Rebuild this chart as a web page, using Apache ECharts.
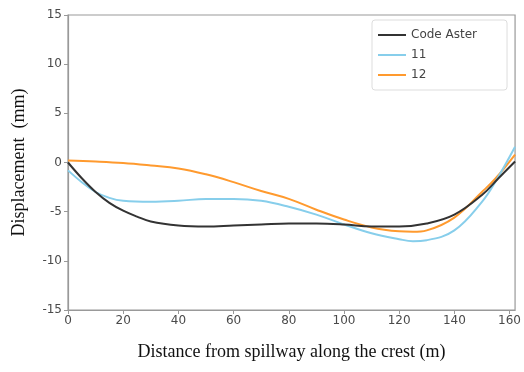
<!DOCTYPE html>
<html><head><meta charset="utf-8">
<script src="https://cdn.jsdelivr.net/npm/echarts@6/dist/echarts.min.js"></script>
<style>html,body{margin:0;padding:0;background:#fff}#c{width:524px;height:372px}</style>
</head><body><div id="c"></div>
<script>
const codeAsterX = [0, 5, 10, 15, 20, 25, 30, 40, 50, 60, 70, 80, 90, 100, 110, 120, 130, 140, 150, 156, 162];
const codeAsterY = [0, -1.6, -3.0, -4.1, -4.9, -5.5, -6.0, -6.4, -6.5, -6.4, -6.3, -6.2, -6.2, -6.3, -6.5, -6.5, -6.2, -5.3, -3.3, -1.6, 0.1];
const s11X = [0, 5, 10, 15, 20, 30, 40, 50, 60, 70, 80, 90, 100, 110, 120, 125, 130, 140, 150, 155, 162];
const s11Y = [-0.8, -2.0, -3.0, -3.6, -3.9, -4.0, -3.9, -3.7, -3.7, -3.9, -4.5, -5.3, -6.3, -7.2, -7.8, -8.0, -7.9, -6.9, -4.0, -1.9, 1.6];
const s12X = [0, 10, 20, 30, 40, 50, 60, 70, 80, 90, 100, 110, 120, 125, 130, 140, 150, 155, 162];
const s12Y = [0.2, 0.1, -0.05, -0.3, -0.6, -1.2, -2.0, -2.9, -3.7, -4.8, -5.8, -6.6, -7.0, -7.05, -6.9, -5.6, -3.0, -1.6, 0.8];
const names = ['Code Aster', '11', '12'];
const colors = ['#333333', '#87CEEB', '#FF9A2E'];
const xTicks = [0, 20, 40, 60, 80, 100, 120, 140, 160];
const yTicks = [-15, -10, -5, 0, 5, 10, 15];

const zip = (xs, ys) => xs.map((x, i) => [x, ys[i]]);
const seriesData = [zip(codeAsterX, codeAsterY), zip(s11X, s11Y), zip(s12X, s12Y)];

const chart = echarts.init(document.getElementById('c'), null, {renderer: 'canvas'});
const tickFont = {fontFamily: 'DejaVu Sans', fontSize: 12, color: '#4a4a4a'};
chart.setOption({
  animation: false,
  backgroundColor: '#fff',
  grid: {left: 68, right: 8, top: 15, bottom: 62, show: true, borderColor: '#999', borderWidth: 1.2},
  legend: {
    left: 372, top: 20, orient: 'vertical',
    data: names,
    icon: 'rect', itemWidth: 28, itemHeight: 2, itemGap: 8,
    padding: [9, 30, 9, 6],
    borderColor: '#ddd', borderWidth: 1, borderRadius: 3, backgroundColor: '#fff',
    textStyle: {fontFamily: 'DejaVu Sans', fontSize: 12, color: '#444'}
  },
  xAxis: {
    type: 'value', min: 0, max: 162, interval: 20,
    name: 'Distance from spillway along the crest (m)', nameLocation: 'middle', nameGap: 33,
    nameTextStyle: {fontFamily: 'Liberation Serif', fontSize: 18, color: '#111'},
    axisLine: {show: true, onZero: false, lineStyle: {color: '#999', width: 1.2}},
    axisTick: {show: true, length: 4, lineStyle: {color: '#999'}},
    axisLabel: Object.assign({margin: 5, showMaxLabel: false, formatter: v => xTicks.includes(v) ? String(v) : ''}, tickFont),
    splitLine: {show: false}
  },
  yAxis: {
    type: 'value', min: -15, max: 15, interval: 5,
    name: 'Displacement  (mm)', nameLocation: 'middle', nameGap: 40,
    nameTextStyle: {fontFamily: 'Liberation Serif', fontSize: 18, color: '#111'},
    axisLine: {show: true, onZero: false, lineStyle: {color: '#999', width: 1.2}},
    axisTick: {show: true, length: 4, lineStyle: {color: '#999'}},
    axisLabel: Object.assign({margin: 6, formatter: v => yTicks.includes(v) ? String(v) : ''}, tickFont),
    splitLine: {show: false}
  },
  series: names.map((n, i) => ({
    name: n, type: 'line', data: seriesData[i], smooth: 0.4, showSymbol: false,
    lineStyle: {color: colors[i], width: 2}, itemStyle: {color: colors[i]}, z: 3 - i
  }))
});
</script></body></html>
